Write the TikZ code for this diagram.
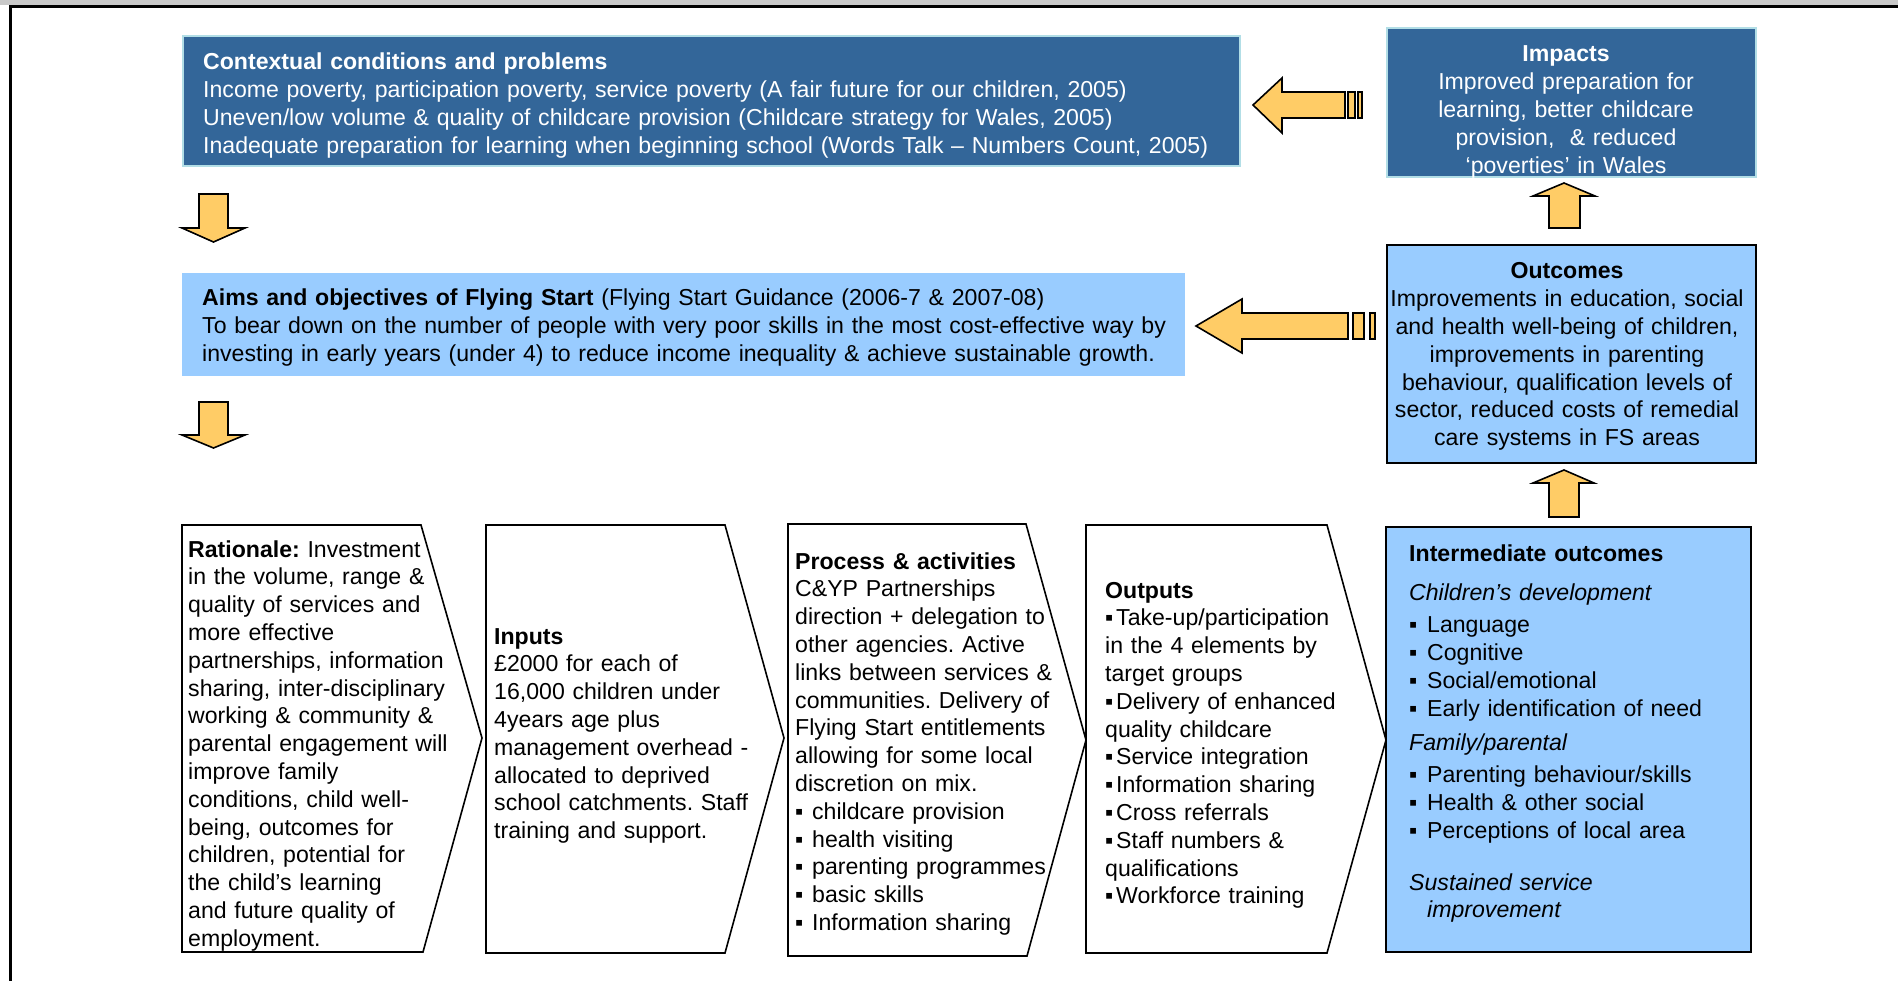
\documentclass[tikz,border=0pt]{standalone}
\usepackage{fontspec}
\setmainfont{Liberation Sans}
\definecolor{darkbox}{RGB}{51,102,153}
\definecolor{lightbox}{RGB}{153,204,255}
\definecolor{arrowfill}{RGB}{255,204,102}
\definecolor{cyanedge}{RGB}{178,222,230}
\definecolor{bandgray}{RGB}{200,200,200}
\newcommand\bodyfont{\frenchspacing\fontsize{23.1}{27.8}\selectfont}
\newcommand\pb{\makebox[17pt][l]{▪}}
\newcommand\ob{\makebox[11pt][l]{▪}}
\newcommand\ib{\makebox[18pt][l]{▪}}
\begin{document}
\begin{tikzpicture}[x=1pt,y=-1pt,
  darkrect/.style={draw=cyanedge, line width=2.2pt, fill=darkbox, inner sep=0pt},
  aimsrect/.style={fill=lightbox, inner sep=0pt},
  lightrect/.style={draw=black, line width=2pt, fill=lightbox, inner sep=0pt},
  chevron/.style={draw=black, line width=1.6pt, fill=white, line join=miter},
  blockarrow/.style={draw=black, line width=1.6pt, fill=arrowfill, line join=miter},
  txt/.style={font=\bodyfont, inner sep=0pt, align=left, anchor=base west},
  ctxt/.style={font=\bodyfont, inner sep=0pt, align=center, anchor=base}]
\useasboundingbox (0,0) rectangle (1898,981);
% frame
\fill[bandgray] (0,0) rectangle (1898,5.5);
\draw[line width=3pt] (10,981) -- (10,7) -- (1898,7);

% boxes
\node[darkrect, minimum width=1057pt, minimum height=130pt] (ctx) at (711.5,101) {};
\node[darkrect, minimum width=369pt, minimum height=149pt] (imp) at (1571.5,102.5) {};
\node[aimsrect, minimum width=1003pt, minimum height=103pt] (aims) at (683.5,324.5) {};
\node[lightrect, minimum width=369pt, minimum height=218pt] (out) at (1571.5,354) {};
\node[lightrect, minimum width=365pt, minimum height=425pt] (inter) at (1568.5,739.5) {};

% chevrons
\draw[chevron] (182,525) -- (421,525) -- (482,738) -- (423,952) -- (182,952) -- cycle;
\draw[chevron] (486,525) -- (725,525) -- (784,738) -- (725,953) -- (486,953) -- cycle;
\draw[chevron] (788,524) -- (1026,524) -- (1086,740) -- (1027,956) -- (788,956) -- cycle;
\draw[chevron] (1086,525) -- (1327,525) -- (1386,740) -- (1327,953) -- (1086,953) -- cycle;

% block arrows (left)
\draw[blockarrow] (1253,105) -- (1282,78) -- (1282,92) -- (1345,92) -- (1345,118) -- (1282,118) -- (1282,133) -- cycle;
\draw[blockarrow] (1348,92) rectangle (1355,118);
\draw[blockarrow] (1358,92) rectangle (1362,118);
\draw[blockarrow] (1196,326) -- (1242,299) -- (1242,313) -- (1348,313) -- (1348,339) -- (1242,339) -- (1242,353) -- cycle;
\draw[blockarrow] (1353,313) rectangle (1364,339);
\draw[blockarrow] (1370,313) rectangle (1375,339);
% down arrows
\draw[blockarrow] (199,194) -- (228,194) -- (228,228) -- (245,228) -- (213.5,242) -- (182,228) -- (199,228) -- cycle;
\draw[blockarrow] (199,402) -- (228,402) -- (228,435) -- (245,435) -- (213.5,448) -- (182,435) -- (199,435) -- cycle;
% up arrows
\draw[blockarrow] (1549,228) -- (1580,228) -- (1580,196) -- (1595,196) -- (1564,183) -- (1533,196) -- (1549,196) -- cycle;
\draw[blockarrow] (1549,517) -- (1579,517) -- (1579,483) -- (1594,483) -- (1564,470) -- (1533,483) -- (1549,483) -- cycle;

% texts
\node[txt, text=white, text width=1030pt] (ctxT) at (203,70) {\textbf{Contextual conditions and problems}\\
Income poverty, participation poverty, service poverty (A fair future for our children, 2005)\\
Uneven/low volume \& quality of childcare provision (Childcare strategy for Wales, 2005)\\
Inadequate preparation for learning when beginning school (Words Talk – Numbers Count, 2005)};

\node[ctxt, text=white, text width=369pt] (impT) at (1566,62) {\textbf{Impacts}\\
Improved preparation for\\
learning, better childcare\\
provision,\ \ \& reduced\\
‘poverties’ in Wales};

\node[txt, text width=990pt] (aimsT) at (202,306) {\textbf{Aims and objectives of Flying Start} (Flying Start Guidance (2006-7 \& 2007-08)\\
To bear down on the number of people with very poor skills in the most cost-effective way by\\
investing in early years (under 4) to reduce income inequality \& achieve sustainable growth.};

\node[ctxt, text width=369pt] (outT) at (1567,279) {\textbf{Outcomes}\\
Improvements in education, social\\
and health well-being of children,\\
improvements in parenting\\
behaviour, qualification levels of\\
sector, reduced costs of remedial\\
care systems in FS areas};

\node[txt, text width=300pt] (ratT) at (188,557) {\textbf{Rationale:} Investment\\
in the volume, range \&\\
quality of services and\\
more effective\\
partnerships, information\\
sharing, inter-disciplinary\\
working \& community \&\\
parental engagement will\\
improve family\\
conditions, child well-\\
being, outcomes for\\
children, potential for\\
the child’s learning\\
and future quality of\\
employment.};

\node[txt, text width=300pt] (inpT) at (494,644) {\textbf{Inputs}\\
£2000 for each of\\
16,000 children under\\
4years age plus\\
management overhead -\\
allocated to deprived\\
school catchments. Staff\\
training and support.};

\node[txt, text width=300pt] (procT) at (795,569) {\textbf{Process \& activities}\\
C\&YP Partnerships\\
direction + delegation to\\
other agencies. Active\\
links between services \&\\
communities. Delivery of\\
Flying Start entitlements\\
allowing for some local\\
discretion on mix.\\
\pb childcare provision\\
\pb health visiting\\
\pb parenting programmes\\
\pb basic skills\\
\pb Information sharing};

\node[txt, text width=300pt] (outpT) at (1105,598) {\textbf{Outputs}\\
\ob Take-up/participation\\
in the 4 elements by\\
target groups\\
\ob Delivery of enhanced\\
quality childcare\\
\ob Service integration\\
\ob Information sharing\\
\ob Cross referrals\\
\ob Staff numbers \&\\
qualifications\\
\ob Workforce training};

\node[txt, text width=330pt] (interT) at (1409,561) {\textbf{Intermediate outcomes}\\[12pt]
\textit{Children’s development}\\[4pt]
\ib Language\\
\ib Cognitive\\
\ib Social/emotional\\
\ib Early identification of need\\[7pt]
\textit{Family/parental}\\[4pt]
\ib Parenting behaviour/skills\\
\ib Health \& other social\\
\ib Perceptions of local area\\[24pt]
\textit{Sustained service}\\
\hspace*{18pt}\textit{improvement}};
\end{tikzpicture}
\end{document}
